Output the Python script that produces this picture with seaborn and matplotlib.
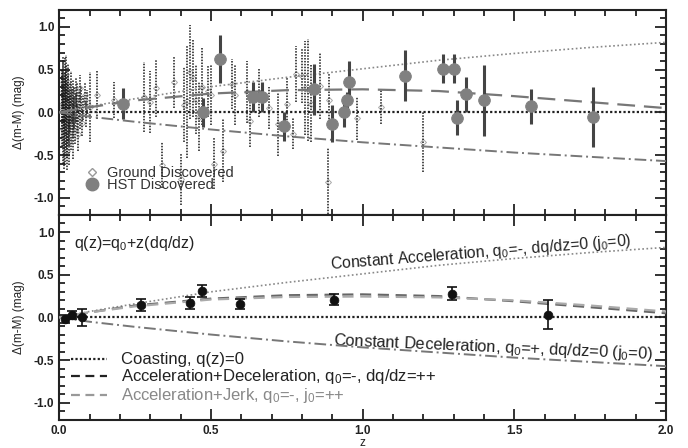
import seaborn as sns
import matplotlib.pyplot as plt
import matplotlib.ticker as mticker
from matplotlib.lines import Line2D
import pandas as pd
import numpy as np

# --- modelos ---
z_model = [0.0, 0.1, 0.25, 0.5, 0.75, 1.0, 1.25, 1.5, 1.75, 2.0]
coasting = [0.0, 0.0, 0.0, 0.0, 0.0, 0.0, 0.0, 0.0, 0.0, 0.0]
const_acc = [0.0, 0.07, 0.16, 0.30, 0.41, 0.51, 0.61, 0.69, 0.76, 0.82]
const_dec = [0.0, -0.05, -0.11, -0.20, -0.28, -0.35, -0.41, -0.47, -0.52, -0.57]
acc_dec = [0.0, 0.06, 0.14, 0.22, 0.26, 0.27, 0.25, 0.19, 0.12, 0.05]
acc_jerk = [0.0, 0.06, 0.13, 0.21, 0.24, 0.245, 0.235, 0.20, 0.14, 0.07]

# --- SNe descubiertas desde tierra ---
ground_z = [0.008, 0.010, 0.012, 0.013, 0.014, 0.015, 0.016, 0.017, 0.018, 0.019,
            0.020, 0.021, 0.022, 0.023, 0.024, 0.025, 0.026, 0.027, 0.028, 0.029,
            0.030, 0.031, 0.033, 0.034, 0.036, 0.037, 0.039, 0.040, 0.042, 0.044,
            0.045, 0.047, 0.049, 0.050, 0.052, 0.054, 0.056, 0.058, 0.060, 0.063,
            0.065, 0.068, 0.070, 0.073, 0.076, 0.080, 0.084, 0.088, 0.092,
            0.10, 0.125, 0.18, 0.28, 0.30, 0.32, 0.34, 0.38, 0.40, 0.41,
            0.42, 0.43, 0.44, 0.45, 0.46, 0.47, 0.49, 0.50, 0.51, 0.54,
            0.57, 0.58, 0.62, 0.63, 0.66, 0.69, 0.72, 0.75, 0.77, 0.78,
            0.80, 0.81, 0.82, 0.83, 0.86, 0.885, 0.89, 0.98, 1.06, 1.20]
ground_dm = [0.10, 0.05, -0.20, 0.35, 0.25, -0.05, -0.38, 0.10, -0.30, 0.40,
             0.18, -0.12, 0.45, 0.30, 0.02, -0.25, -0.45, 0.12, -0.08, 0.35,
             0.22, -0.35, 0.05, -0.15, 0.15, -0.02, 0.28, -0.22, 0.08, -0.10,
             0.20, -0.30, 0.00, 0.14, -0.18, 0.25, 0.05, -0.07, 0.18, -0.25,
             0.10, 0.28, -0.05, 0.15, -0.12, 0.05, 0.20, -0.02, 0.12,
             0.06, 0.20, 0.15, 0.18, 0.12, 0.28, -0.62, 0.35, -0.78, 0.09,
             0.13, 0.47, 0.40, 0.15, -0.05, 0.30, 0.25, 0.20, -0.60, -0.45,
             0.33, 0.20, 0.24, -0.10, 0.23, 0.05, -0.14, 0.10, -0.25, 0.45,
             0.43, 0.28, 0.26, 0.10, 0.31, -0.82, 0.15, -0.07, 0.06, -0.35]
ground_err = [0.40, 0.45, 0.40, 0.30, 0.35, 0.38, 0.28, 0.30, 0.32, 0.25,
              0.28, 0.30, 0.22, 0.25, 0.27, 0.28, 0.22, 0.24, 0.25, 0.22,
              0.22, 0.26, 0.22, 0.24, 0.20, 0.21, 0.20, 0.22, 0.19, 0.20,
              0.18, 0.25, 0.18, 0.17, 0.19, 0.17, 0.16, 0.17, 0.16, 0.20,
              0.15, 0.16, 0.15, 0.15, 0.16, 0.14, 0.15, 0.15, 0.14,
              0.41, 0.28, 0.21, 0.41, 0.36, 0.33, 0.27, 0.30, 0.30, 0.44,
              0.66, 0.55, 0.45, 0.40, 0.40, 0.45, 0.30, 0.35, 0.30, 0.37,
              0.29, 0.35, 0.36, 0.30, 0.28, 0.25, 0.37, 0.30, 0.18, 0.33,
              0.32, 0.55, 0.60, 0.45, 0.39, 0.40, 0.30, 0.25, 0.20, 0.35]

# --- SNe descubiertas con HST ---
hst_z = [0.21, 0.475, 0.53, 0.64, 0.67, 0.74, 0.84, 0.90, 0.94, 0.95,
         0.955, 1.14, 1.265, 1.30, 1.31, 1.34, 1.40, 1.555, 1.76]
hst_dm = [0.10, 0.00, 0.62, 0.18, 0.18, -0.16, 0.27, -0.13, 0.00, 0.14,
          0.35, 0.43, 0.51, 0.51, -0.06, 0.21, 0.14, 0.07, -0.05]
hst_err = [0.18, 0.17, 0.28, 0.17, 0.17, 0.17, 0.30, 0.22, 0.17, 0.10,
           0.25, 0.30, 0.17, 0.17, 0.20, 0.20, 0.42, 0.20, 0.35]

# --- promedios por bin ---
bin_z = [0.02, 0.043, 0.075, 0.27, 0.43, 0.47, 0.595, 0.905, 1.295, 1.61]
bin_dm = [-0.02, 0.03, 0.00, 0.15, 0.17, 0.31, 0.16, 0.21, 0.28, 0.03]
bin_err = [0.05, 0.05, 0.10, 0.07, 0.07, 0.07, 0.06, 0.06, 0.08, 0.17]

sns.set_theme(style="ticks")
plt.rcParams['font.family'] = ['Liberation Sans', 'DejaVu Sans']
plt.rcParams['mathtext.fontset'] = 'custom'
plt.rcParams['mathtext.rm'] = 'Liberation Sans'
plt.rcParams['mathtext.it'] = 'Liberation Sans'

fig, (ax1, ax2) = plt.subplots(2, 1, figsize=(6.88, 4.48), dpi=100, sharex=True)
fig.subplots_adjust(left=0.086, right=0.968, top=0.978, bottom=0.0625, hspace=0)

models = pd.DataFrame({'z': z_model, 'coast': coasting, 'acc': const_acc,
                       'dec': const_dec, 'accdec': acc_dec, 'jerk': acc_jerk})
ground = pd.DataFrame({'z': ground_z, 'dm': ground_dm, 'err': ground_err})
hst = pd.DataFrame({'z': hst_z, 'dm': hst_dm, 'err': hst_err})
binned = pd.DataFrame({'z': bin_z, 'dm': bin_dm, 'err': bin_err})

# ---- panel superior ----
sns.scatterplot(data=ground, x='z', y='dm', ax=ax1, marker='D', s=9,
                facecolor='white', edgecolor='#aaaaaa', linewidth=0.7, zorder=2)
eb = ax1.errorbar(ground['z'], ground['dm'], yerr=ground['err'], fmt='none',
                  ecolor='#1a1a1a', elinewidth=1.1, zorder=3)
eb[-1][0].set_linestyle((0, (1, 0.9)))
sns.lineplot(data=models, x='z', y='coast', ax=ax1, color='#222222', lw=1.6,
             linestyle=(0, (1, 1)), zorder=4)
sns.lineplot(data=models, x='z', y='acc', ax=ax1, color='#888888', lw=1.2,
             linestyle=(0, (1, 1.5)), zorder=4)
sns.lineplot(data=models, x='z', y='dec', ax=ax1, color='#777777', lw=1.4,
             linestyle=(0, (6, 2, 1, 2)), zorder=4)
sns.lineplot(data=models, x='z', y='accdec', ax=ax1, color='#777777', lw=1.6,
             linestyle=(0, (8, 4)), zorder=4)
ax1.errorbar(hst['z'], hst['dm'], yerr=hst['err'], fmt='none',
             ecolor='#444444', elinewidth=2.2, zorder=5)
sns.scatterplot(data=hst, x='z', y='dm', ax=ax1, s=70, color='#808080',
                edgecolor='#808080', zorder=6)

leg1 = ax1.legend(handles=[
    Line2D([], [], ls='none', marker='D', ms=4, mfc='white', mec='#999999'),
    Line2D([], [], ls='none', marker='o', ms=9, mfc='#808080', mec='#808080')],
    labels=['Ground Discovered', 'HST Discovered'], loc='upper left',
    bbox_to_anchor=(0.03, 0.275), frameon=False, fontsize=10.5,
    handlelength=1.0, handletextpad=0.5, labelspacing=-0.1, borderpad=0)
for t in leg1.get_texts():
    t.set_color('#333333')

# ---- panel inferior ----
sns.lineplot(data=models, x='z', y='coast', ax=ax2, color='#222222', lw=1.6,
             linestyle=(0, (1, 1)), zorder=4)
sns.lineplot(data=models, x='z', y='acc', ax=ax2, color='#888888', lw=1.2,
             linestyle=(0, (1, 1.5)), zorder=4)
sns.lineplot(data=models, x='z', y='dec', ax=ax2, color='#777777', lw=1.4,
             linestyle=(0, (6, 2, 1, 2)), zorder=4)
sns.lineplot(data=models, x='z', y='accdec', ax=ax2, color='#666666', lw=1.6,
             linestyle=(0, (5, 3)), zorder=4)
sns.lineplot(data=models, x='z', y='jerk', ax=ax2, color='#aaaaaa', lw=1.6,
             linestyle=(0, (5, 3)), zorder=4)
ax2.errorbar(binned['z'], binned['dm'], yerr=binned['err'], fmt='none',
             ecolor='#111111', elinewidth=1.2, capsize=3.5, capthick=1.2, zorder=5)
sns.scatterplot(data=binned, x='z', y='dm', ax=ax2, s=40, color='#111111',
                edgecolor='#111111', zorder=6)

ax2.text(0.05, 0.86, 'q(z)=q$_0$+z(dq/dz)', fontsize=11.5, color='#222222',
         ha='left', va='center')
ax2.text(1.39, 0.76, 'Constant Acceleration, q$_0$=-, dq/dz=0 (j$_0$=0)',
         fontsize=11.3, color='#222222', ha='center', va='center',
         rotation=4.5, rotation_mode='anchor')
ax2.text(1.43, -0.35, 'Constant Deceleration, q$_0$=+, dq/dz=0 (j$_0$=0)',
         fontsize=11.8, color='#222222', ha='center', va='center',
         rotation=-2.5, rotation_mode='anchor')

leg2 = ax2.legend(handles=[
    Line2D([], [], color='#222222', lw=1.6, ls=(0, (1, 1))),
    Line2D([], [], color='#222222', lw=1.6, ls=(0, (4, 2.5))),
    Line2D([], [], color='#999999', lw=1.6, ls=(0, (4, 2.5)))],
    labels=['Coasting, q(z)=0',
            'Acceleration+Deceleration, q$_0$=-, dq/dz=++',
            'Acceleration+Jerk, q$_0$=-, j$_0$=++'],
    loc='upper left', bbox_to_anchor=(0.005, 0.37), frameon=False,
    fontsize=12, handlelength=2.2, handletextpad=0.8, labelspacing=0.0,
    borderpad=0)
texts = leg2.get_texts()
for t in texts[:2]:
    t.set_color('#222222')
texts[2].set_color('#888888')

for ax in (ax1, ax2):
    ax.set_xlim(0, 2.0)
    ax.set_ylim(-1.2, 1.2)
    ax.xaxis.set_major_locator(mticker.MultipleLocator(0.5))
    ax.xaxis.set_minor_locator(mticker.MultipleLocator(0.1))
    ax.yaxis.set_major_locator(mticker.MultipleLocator(0.5))
    ax.yaxis.set_minor_locator(mticker.MultipleLocator(0.1))
    ax.yaxis.set_major_formatter(mticker.FormatStrFormatter('%.1f'))
    ax.tick_params(which='both', direction='in', top=True, right=True,
                   labelsize=8.5, colors='#222222', width=1.3)
    ax.tick_params(which='major', length=8)
    ax.tick_params(which='minor', length=4)
    for sp in ax.spines.values():
        sp.set_linewidth(1.5)
        sp.set_color('#222222')
    ax.set_ylabel('Δ(m-M) (mag)', fontsize=8.5, color='#222222', labelpad=6)
    for lbl in ax.get_yticklabels():
        lbl.set_fontweight('bold')

ax1.set_xlabel('')
ax2.xaxis.set_major_formatter(mticker.FormatStrFormatter('%.1f'))
ax2.set_xlabel('z', fontsize=8.5, color='#222222')
ax2.xaxis.set_label_coords(0.5, -0.085)
for lbl in ax2.get_xticklabels():
    lbl.set_fontweight('bold')

fig.savefig('out.png', dpi=100)
